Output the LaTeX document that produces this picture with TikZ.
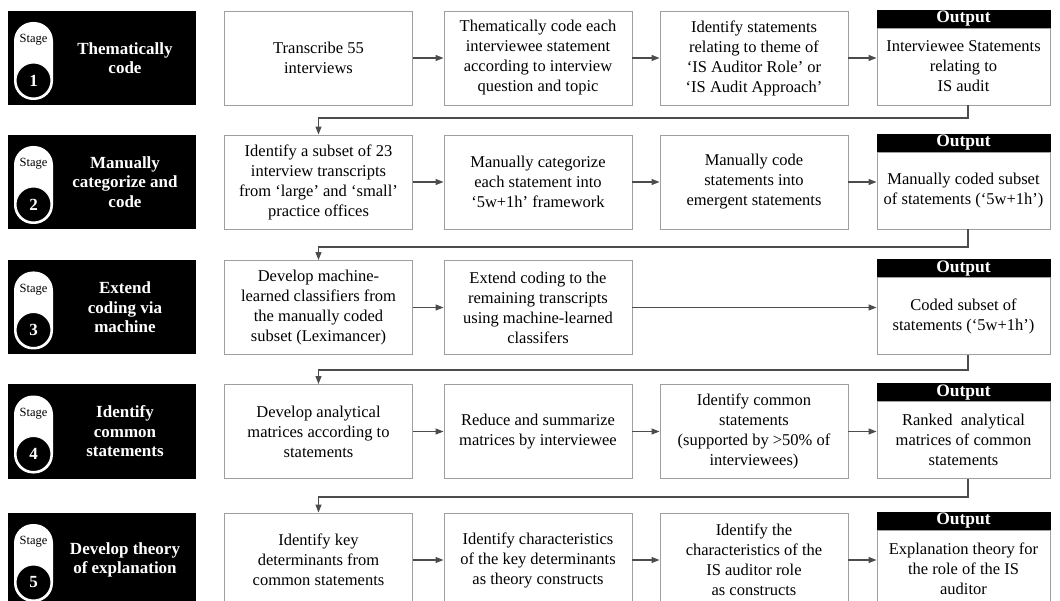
\documentclass[tikz,border=0pt]{standalone}
\usepackage{fontspec}
\setmainfont{Liberation Serif}
\usetikzlibrary{arrows.meta,positioning}

\begin{document}
\begin{tikzpicture}[x=1pt, y=-1pt,
    stagebox/.style={fill=black, minimum width=188pt, minimum height=94pt, inner sep=0pt},
    stagename/.style={text=white, font=\fontsize{17}{19.5}\selectfont\bfseries, align=center, inner sep=0pt},
    pill/.style={fill=white, rounded corners=19pt, minimum width=39pt, minimum height=78pt, inner sep=0pt},
    stagenum/.style={circle, fill=black, draw=white, line width=1pt, minimum size=35pt, inner sep=0pt, text=white, font=\fontsize{17}{17}\selectfont\bfseries},
    stagetag/.style={font=\fontsize{12.5}{12.5}\selectfont, inner sep=0pt},
    task/.style={draw=gray!75, line width=0.9pt, fill=white, minimum width=188pt, minimum height=94pt, align=center, inner sep=2pt, font=\fontsize{16.5}{20}\selectfont},
    outbody/.style={task, minimum width=173pt, minimum height=77pt},
    outhead/.style={fill=black, draw=black, line width=0.9pt, text=white, minimum width=173pt, minimum height=17pt, inner sep=0pt, font=\fontsize{17.5}{17.5}\selectfont\bfseries},
    flow/.style={-{Triangle[length=8pt, width=6pt]}, line width=1.2pt, draw=black!70}
]
    \useasboundingbox (0,0) rectangle (1060,601);

    % Stage 1
    \node[stagebox] (s1) at (102,58) {};
    \node[pill] (p1) at (33.5,61) {};
    \node[stagetag] (g1) at (33.5,40) {Stage};
    \node[stagenum] (n1) at (33.5,80.5) {1};
    \node[stagename] (h1) at (125,58) {Thematically\\code};
    \node[task] (t11) at (318.5,58) {Transcribe 55\\interviews};
    \node[task] (t12) at (538,58) {Thematically code each\\interviewee statement\\according to interview\\question and topic};
    \node[task] (t13) at (754,58) {Identify statements\\relating to theme of\\‘IS Auditor Role’ or\\‘IS Audit Approach’};
    \node[outbody] (out1) at (963.5,66.5) {Interviewee Statements\\relating to\\IS audit};
    \node[outhead, above=0pt of out1] (oh1) {Output};
    \draw[flow] (t11) -- (t12);
    \draw[flow] (t12) -- (t13);
    \draw[flow] (t13.east) -- (t13.east -| out1.west);

    % Stage 2
    \coordinate (fb1) at (968,118);
    \node[stagebox] (s2) at (102,182) {};
    \node[pill] (p2) at (33.5,185) {};
    \node[stagetag] (g2) at (33.5,164) {Stage};
    \node[stagenum] (n2) at (33.5,204.5) {2};
    \node[stagename] (h2) at (125,182) {Manually\\categorize and\\code};
    \node[task] (t21) at (318.5,182) {Identify a subset of 23\\interview transcripts\\from ‘large’ and ‘small’\\practice offices};
    \node[task] (t22) at (538,182) {Manually categorize\\each statement into\\‘5w+1h’ framework};
    \node[task] (t23) at (754,182) {Manually code\\statements into\\emergent statements};
    \node[outbody] (out2) at (963.5,190.5) {Manually coded subset\\of statements (‘5w+1h’)};
    \node[outhead, above=0pt of out2] (oh2) {Output};
    \draw[flow] (fb1 |- out1.south) -- (fb1) -| (t21.north);
    \draw[flow] (t21) -- (t22);
    \draw[flow] (t22) -- (t23);
    \draw[flow] (t23.east) -- (t23.east -| out2.west);

    % Stage 3
    \coordinate (fb2) at (968,247);
    \node[stagebox] (s3) at (102,307.5) {};
    \node[pill] (p3) at (33.5,310.5) {};
    \node[stagetag] (g3) at (33.5,289.5) {Stage};
    \node[stagenum] (n3) at (33.5,330) {3};
    \node[stagename] (h3) at (125,307.5) {Extend\\coding via\\machine};
    \node[task] (t31) at (318.5,307.5) {Develop machine-\\learned classifiers from\\the manually coded\\subset (Leximancer)};
    \node[task] (t32) at (538,307.5) {Extend coding to the\\remaining transcripts\\using machine-learned\\classifers};
    \node[outbody] (out3) at (963.5,316) {Coded subset of\\statements (‘5w+1h’)};
    \node[outhead, above=0pt of out3] (oh3) {Output};
    \draw[flow] (fb2 |- out2.south) -- (fb2) -| (t31.north);
    \draw[flow] (t31) -- (t32);
    \draw[flow] (t32.east) -- (t32.east -| out3.west);

    % Stage 4
    \coordinate (fb3) at (968,370);
    \node[stagebox] (s4) at (102,431.5) {};
    \node[pill] (p4) at (33.5,434.5) {};
    \node[stagetag] (g4) at (33.5,413.5) {Stage};
    \node[stagenum] (n4) at (33.5,454) {4};
    \node[stagename] (h4) at (125,431.5) {Identify\\common\\statements};
    \node[task] (t41) at (318.5,431.5) {Develop analytical\\matrices according to\\statements};
    \node[task] (t42) at (538,431.5) {Reduce and summarize\\matrices by interviewee};
    \node[task] (t43) at (754,431.5) {Identify common\\statements\\(supported by >50\% of\\interviewees)};
    \node[outbody] (out4) at (963.5,440) {Ranked\ \ analytical\\matrices of common\\statements};
    \node[outhead, above=0pt of out4] (oh4) {Output};
    \draw[flow] (fb3 |- out3.south) -- (fb3) -| (t41.north);
    \draw[flow] (t41) -- (t42);
    \draw[flow] (t42) -- (t43);
    \draw[flow] (t43.east) -- (t43.east -| out4.west);

    % Stage 5
    \coordinate (fb4) at (968,497);
    \node[stagebox] (s5) at (102,560) {};
    \node[pill] (p5) at (33.5,563) {};
    \node[stagetag] (g5) at (33.5,542) {Stage};
    \node[stagenum] (n5) at (33.5,582.5) {5};
    \node[stagename] (h5) at (125,560) {Develop theory\\of explanation};
    \node[task] (t51) at (318.5,560) {Identify key\\determinants from\\common statements};
    \node[task] (t52) at (538,560) {Identify characteristics\\of the key determinants\\as theory constructs};
    \node[task] (t53) at (754,560) {Identify the\\characteristics of the\\IS auditor role\\as constructs};
    \node[outbody] (out5) at (963.5,568.5) {Explanation theory for\\the role of the IS\\auditor};
    \node[outhead, above=0pt of out5] (oh5) {Output};
    \draw[flow] (fb4 |- out4.south) -- (fb4) -| (t51.north);
    \draw[flow] (t51) -- (t52);
    \draw[flow] (t52) -- (t53);
    \draw[flow] (t53.east) -- (t53.east -| out5.west);
\end{tikzpicture}
\end{document}
